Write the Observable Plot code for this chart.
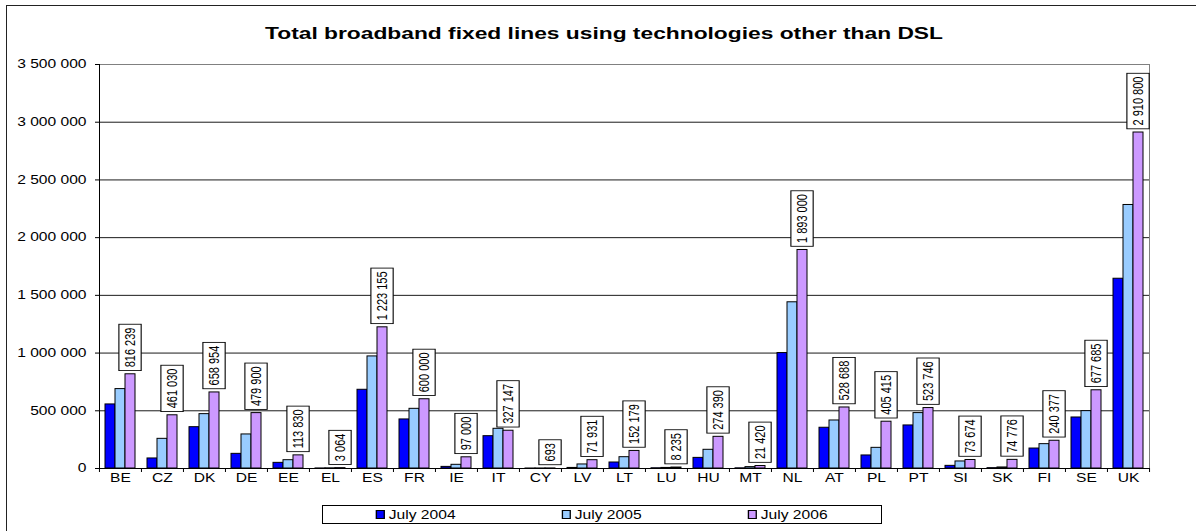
<!DOCTYPE html>
<html>
<head>
<meta charset="utf-8">
<script src="https://cdn.jsdelivr.net/npm/d3@7"></script>
<script src="https://cdn.jsdelivr.net/npm/@observablehq/plot@0.6"></script>
<style>
  html, body { margin: 0; padding: 0; background: #fff; }
  #wrap { position: relative; width: 1196px; height: 531px; overflow: hidden; font-family: "Liberation Sans", Arial, sans-serif; }
  #sheet { position: absolute; left: 6px; top: 5px; width: 1250px; height: 600px; border: 1px solid #222; box-sizing: border-box; }
  #title { position: absolute; left: 6px; width: 1196px; top: 24px; text-align: center; font-weight: bold; font-size: 17px; line-height: 20px; color: #000; }
  #title span { display: inline-block; transform: scaleX(1.34); transform-origin: center; }
  #chart { position: absolute; left: 0; top: 0; }
  #legend { position: absolute; left: 322px; top: 505px; width: 560px; height: 19px; border: 1px solid #000; box-sizing: border-box; display: grid; grid-template-columns: 1fr 1fr 1fr; align-items: center; background: #fff; }
  #legend .item { justify-self: center; display: inline-flex; align-items: center; transform: scaleX(1.3); font-size: 12px; color: #000; }
  #legend .sw { width: 7px; height: 9px; border: 1px solid #000; box-sizing: border-box; margin-right: 3px; }
</style>
</head>
<body>
<div id="wrap">
  <div id="sheet"></div>
  <div id="chart"></div>
  <div id="title"><span>Total broadband fixed lines using technologies other than DSL</span></div>
  <div id="legend"></div>
</div>
<script>
const countries = ["BE","CZ","DK","DE","EE","EL","ES","FR","IE","IT","CY","LV","LT","LU","HU","MT","NL","AT","PL","PT","SI","SK","FI","SE","UK"];
const seriesNames = ["July 2004","July 2005","July 2006"];
const seriesColors = ["#0000FF","#99CCFF","#CC99FF"];
const july2004 = [555000, 87000, 358000, 127000, 49000, 500, 682000, 425000, 14000, 280000, 100, 5000, 52000, 2000, 92000, 1500, 1000000, 353000, 113000, 373000, 23000, 3000, 173000, 442000, 1644000];
const july2005 = [688000, 257000, 471000, 295000, 72000, 1500, 971000, 517000, 32000, 344000, 300, 35000, 98000, 5000, 162000, 12000, 1440000, 416000, 179000, 480000, 61000, 9000, 211000, 497000, 2283000];
const july2006 = [816239, 461030, 658954, 479900, 113830, 3064, 1223155, 600000, 97000, 327147, 693, 71931, 152179, 8235, 274390, 21420, 1893000, 528688, 405415, 523746, 73674, 74776, 240377, 677685, 2910800];
const yTicks = [0, 500000, 1000000, 1500000, 2000000, 2500000, 3000000, 3500000];

const seriesValues = [july2004, july2005, july2006];
const data = countries.flatMap((c, i) => seriesNames.map((s, j) => ({country: c, series: s, value: seriesValues[j][i]})));
const labelled = data.filter(d => d.series === seriesNames[2]);
const fmt = v => d3.format(",")(v).replace(/,/g, " ");

const W = 1196, ML = 98, MR = 46;
const step = (W - ML - MR) / countries.length;

const svg = Plot.plot({
  width: W, height: 498,
  marginLeft: ML, marginRight: MR, marginTop: 64, marginBottom: 30,
  style: {background: "transparent", fontFamily: "'Liberation Sans', Arial, sans-serif", fontSize: "12px", color: "#000", overflow: "visible"},
  fx: {domain: countries, padding: 0, label: null},
  x: {domain: seriesNames, paddingInner: 0, paddingOuter: 0.41, axis: null},
  y: {domain: [0, 3500000], label: null},
  color: {domain: seriesNames, range: seriesColors},
  marks: [
    Plot.gridY(yTicks, {stroke: "#000", strokeOpacity: 0.9}),
    Plot.frame({facet: "super", stroke: "#808080"}),
    Plot.barY(data, {fx: "country", x: "series", y: "value", fill: "series", stroke: "#000", strokeWidth: 1}),
    Plot.ruleY([0], {stroke: "#000"}),
    Plot.frame({facet: "super", anchor: "left", stroke: "#000"}),
    Plot.axisY({ticks: yTicks, tickSize: 4, tickPadding: 9, tickFormat: fmt, label: null, fontSize: 12}),
    Plot.axisFx({anchor: "bottom", tickSize: 0, tickPadding: 5, label: null, fontSize: 12}),
    Plot.axisFx({anchor: "bottom", tickSize: 4, tickFormat: () => "", label: null, dx: -step / 2}),
    Plot.axisFx({anchor: "bottom", ticks: [countries[countries.length - 1]], tickSize: 4, tickFormat: () => "", label: null, dx: step / 2}),
    Plot.text(labelled, {fx: "country", x: "series", y: "value", text: d => fmt(d.value), rotate: -90, textAnchor: "start", dy: -7, fontSize: 11, fill: "#000"})
  ]
});
document.getElementById("chart").appendChild(svg);

// horizontal stretch of the axis texts to match the reference lettering
svg.querySelectorAll('g[aria-label$="tick label"] text').forEach(t => {
  const tr = t.getAttribute("transform") || "";
  t.setAttribute("transform", tr + " scale(1.3,1)");
});
// bordered white boxes behind the value labels
const ns = "http://www.w3.org/2000/svg";
svg.querySelectorAll('g[aria-label="text"] text').forEach(t => {
  const tr = (t.getAttribute("transform") || "") + " scale(1,1.3)";
  t.setAttribute("transform", tr);
  const b = t.getBBox();
  const r = document.createElementNS(ns, "rect");
  r.setAttribute("x", b.x - 3.3);
  r.setAttribute("y", b.y - 2.1);
  r.setAttribute("width", b.width + 6.6);
  r.setAttribute("height", b.height + 4.2);
  r.setAttribute("transform", tr);
  r.setAttribute("fill", "#fff");
  r.setAttribute("stroke", "#000");
  r.setAttribute("stroke-width", 0.85);
  t.parentNode.insertBefore(r, t);
});

// legend
const lg = document.getElementById("legend");
seriesNames.forEach((s, j) => {
  const it = document.createElement("div");
  it.className = "item";
  const sw = document.createElement("span");
  sw.className = "sw";
  sw.style.background = seriesColors[j];
  const tx = document.createElement("span");
  tx.textContent = s;
  it.appendChild(sw); it.appendChild(tx);
  lg.appendChild(it);
});
</script>
</body>
</html>
